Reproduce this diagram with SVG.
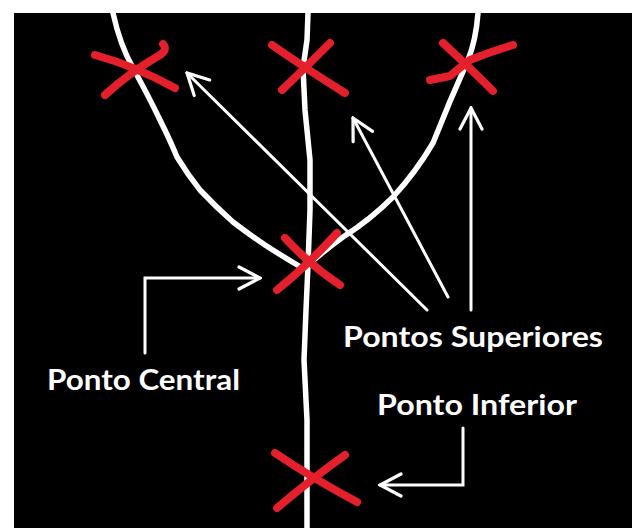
<svg xmlns="http://www.w3.org/2000/svg" width="632" height="528" viewBox="0 0 632 528">
<defs>
<style>
.curve{fill:none;stroke:#fff;stroke-width:5.5;stroke-linecap:round;stroke-linejoin:round}
.mark{fill:none;stroke:#e3202b;stroke-width:8;stroke-linecap:round;stroke-linejoin:round}
.arr{fill:none;stroke:#fff;stroke-width:3;stroke-linecap:round;stroke-linejoin:miter}
.lbl{fill:#fff;font-family:Lato,"Open Sans","Liberation Sans",sans-serif;font-weight:bold;font-size:28px}
</style>
<marker id="ah" viewBox="0 0 26 26" refX="24" refY="13" markerWidth="26" markerHeight="26" markerUnits="userSpaceOnUse" orient="auto">
<path d="M3,2 L24,13 L3,24" fill="none" stroke="#fff" stroke-width="3.2" stroke-linecap="round" stroke-linejoin="miter"/>
</marker>
</defs>
<rect x="0" y="0" width="632" height="528" fill="#fff"/>
<rect x="14" y="13" width="618" height="515" fill="#000"/>
<g id="plant">
<path class="curve" d="M113,13 Q120,45 133,68 Q148,95 160,120 Q170,140 177,157 Q188,175 200,190 Q216,207 233,222 Q250,235 265,245 Q282,256 299,266"/>
<path class="curve" d="M478,13 Q476,40 468,60 Q450,100 433,143 Q416,172 393,197 Q370,220 343,237 Q325,250 308,265"/>
<path class="curve" d="M308,13 L307,40 L303,68 L305,110 L310,160 L310,210 L308,265 L306,310 L304,360 L307,420 L307,480 L307,528"/>
</g>
<g id="p1"><path class="mark" d="M95,55 Q135,66 175,88"/><path class="mark" d="M163,44 Q168,50 160,55 Q130,72 105,95"/></g>
<g id="p2"><path class="mark" d="M272,45 Q305,68 345,93"/><path class="mark" d="M330,43 Q305,68 282,90"/></g>
<g id="p3"><path class="mark" d="M430,80 L450,76 Q462,66 470,60 Q490,52 513,45"/><path class="mark" d="M443,43 Q470,68 493,91"/></g>
<g id="p4"><path class="mark" d="M285,238 Q310,265 340,285"/><path class="mark" d="M337,233 Q308,265 277,290"/></g>
<g id="p5"><path class="mark" d="M275,453 Q312,478 357,502"/><path class="mark" d="M345,455 Q310,480 277,508"/></g>
<g id="connectors">
<path class="arr" d="M427,310 L187,73" marker-end="url(#ah)"/>
<path class="arr" d="M448,297 L353,118" marker-end="url(#ah)"/>
<path class="arr" d="M471,310 L471,108" marker-end="url(#ah)"/>
<path class="arr" d="M145,353 L145,278 L260,278" marker-end="url(#ah)"/>
<path class="arr" d="M463,428 L463,485 L380,485" marker-end="url(#ah)"/>
</g>
<g id="labels">
<text class="lbl" x="343" y="347" textLength="260" lengthAdjust="spacingAndGlyphs">Pontos Superiores</text>
<text class="lbl" x="47" y="390" textLength="193" lengthAdjust="spacingAndGlyphs">Ponto Central</text>
<text class="lbl" x="377" y="415" textLength="200" lengthAdjust="spacingAndGlyphs">Ponto Inferior</text>
</g>
</svg>
